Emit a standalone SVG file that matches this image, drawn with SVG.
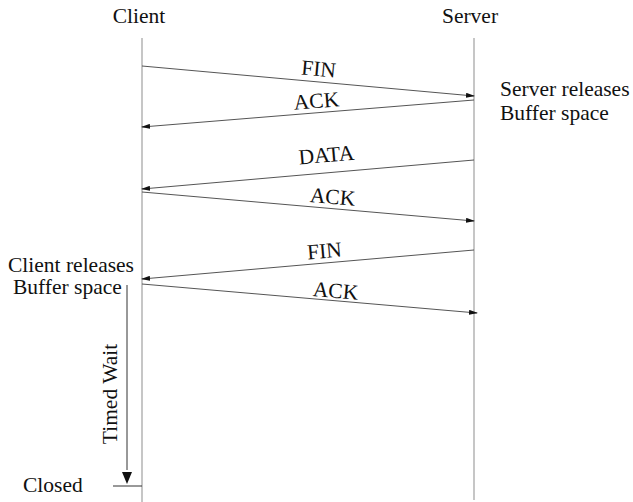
<svg xmlns="http://www.w3.org/2000/svg" width="633" height="502" viewBox="0 0 633 502" font-family="'Liberation Serif', 'Times New Roman', Tinos, 'DejaVu Serif', serif">
<style>
text{font-family:"Liberation Serif","Times New Roman",Tinos,"DejaVu Serif",serif;font-size:21.5px;fill:#111}
.life{stroke:#b8b8b8;stroke-width:1.6;fill:none}
.msg{stroke:#555;stroke-width:1;fill:none;marker-end:url(#ah)}
.lbl{text-anchor:middle}
</style>
<defs>
<marker id="ah" markerWidth="9" markerHeight="5" refX="8" refY="2.5" orient="auto" markerUnits="userSpaceOnUse">
<path d="M0,0 L9,2.5 L0,5 Z" fill="#111"/>
</marker>
</defs>
<g id="client">
<text x="139" y="23" class="lbl">Client</text>
<line class="life" x1="142" y1="38" x2="142" y2="502"/>
</g>
<g id="server">
<text x="470" y="23" class="lbl">Server</text>
<line class="life" x1="474" y1="38" x2="474" y2="500"/>
</g>
<g id="server-note">
<text x="500" y="96">Server releases</text>
<text x="500" y="120">Buffer space</text>
</g>
<g id="client-note">
<text x="8" y="272">Client releases</text>
<text x="13" y="294">Buffer space</text>
</g>
<g id="timed-wait">
<line x1="127" y1="285" x2="127" y2="470" stroke="#333" stroke-width="1"/>
<path d="M122,472 L127,484 L132,472 Z" fill="#111"/>
<text transform="translate(117,394) rotate(-90)" class="lbl">Timed Wait</text>
</g>
<g id="closed">
<line x1="113" y1="486" x2="142" y2="486" stroke="#333" stroke-width="1"/>
<text x="23" y="492">Closed</text>
</g>
<g id="connectors">
<line class="msg" x1="142" y1="66" x2="474" y2="96"/>
<line class="msg" x1="474" y1="100" x2="142" y2="127"/>
<line class="msg" x1="474" y1="160" x2="142" y2="189"/>
<line class="msg" x1="142" y1="192" x2="474" y2="221"/>
<line class="msg" x1="474" y1="250" x2="142" y2="279"/>
<line class="msg" x1="142" y1="284" x2="477" y2="313"/>
<text class="lbl" transform="translate(318,76) rotate(5.2)">FIN</text>
<text class="lbl" transform="translate(317,108) rotate(-4.7)">ACK</text>
<text class="lbl" transform="translate(327,162) rotate(-5)">DATA</text>
<text class="lbl" transform="translate(332,204) rotate(5)">ACK</text>
<text class="lbl" transform="translate(325,258) rotate(-5)">FIN</text>
<text class="lbl" transform="translate(335,298) rotate(5)">ACK</text>
</g>
</svg>
